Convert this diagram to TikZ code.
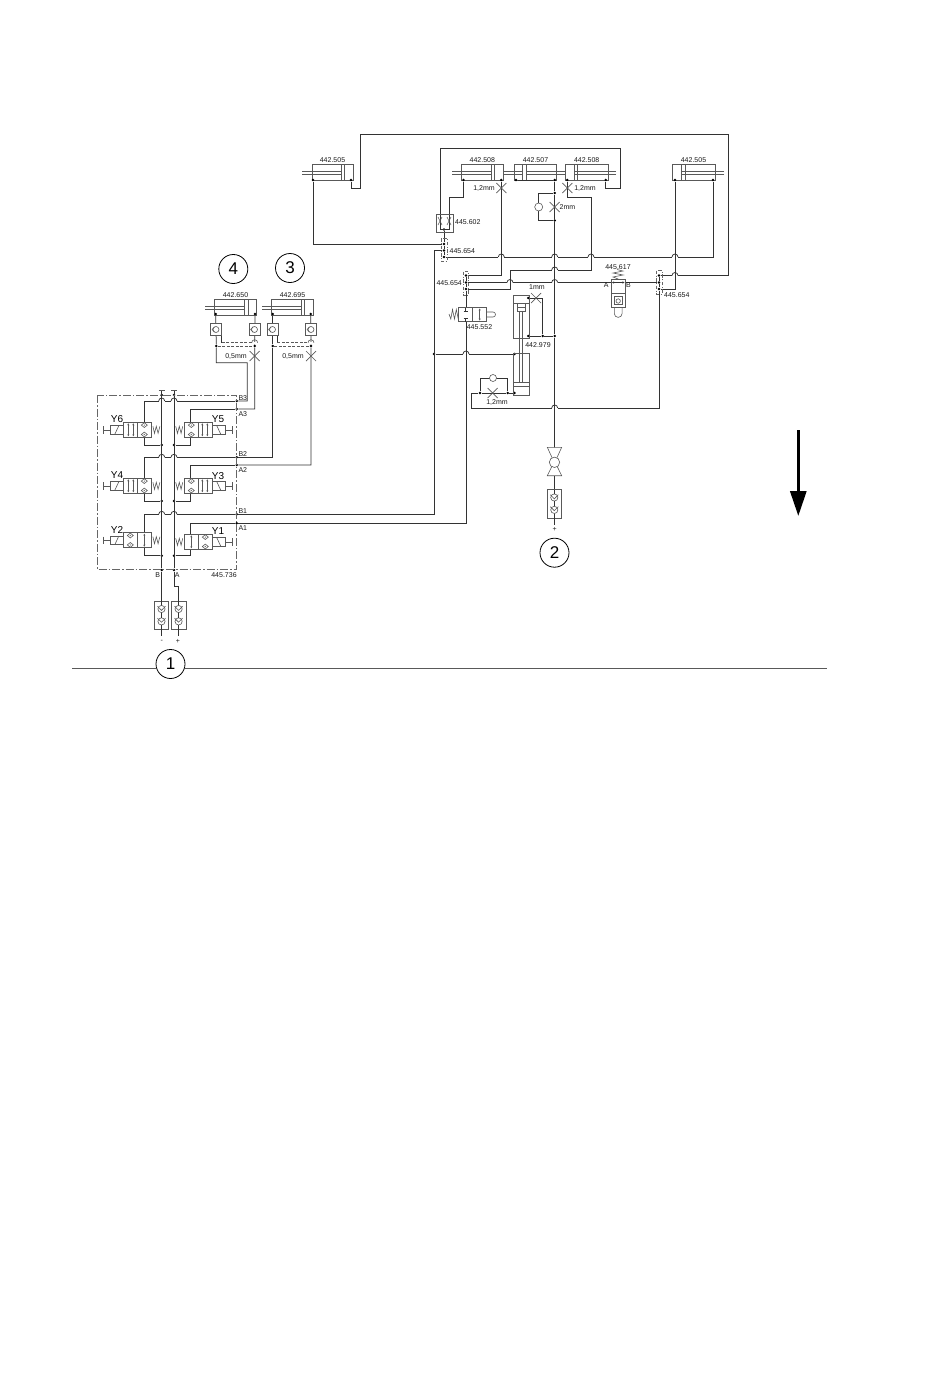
\documentclass[tikz,border=0pt]{standalone}
\usepackage{fontspec}
\setmainfont{Liberation Sans}
\usetikzlibrary{calc,arrows.meta}
\newcommand{\clrwire}{black!80}
\newcommand{\clrpart}{black!65}

\tikzset{
    wire/.style = {draw=\clrwire, line width=0.75pt},
    part/.style = {draw=\clrpart, line width=0.6pt},
    pilot/.style = {part, dash pattern=on 3pt off 1.5pt},
    frame/.style = {draw=black!60, line width=0.6pt, dash pattern=on 8pt off 2pt on 1.5pt off 2pt},
    port/.style = {fill=black, circle, inner sep=0pt, minimum size=2.8pt},
    lbl/.style = {inner sep=0pt, font=\fontsize{7}{7}\selectfont, text=black!90},
    ylbl/.style = {inner sep=0pt, font=\fontsize{10}{10}\selectfont, text=black},
    numc/.style = {draw=black, circle, line width=0.8pt, minimum size=29pt, inner sep=0pt,
        font=\fontsize{17}{17}\selectfont},
    twoway/.style = {part, {Stealth[length=2pt,width=2pt]}-{Stealth[length=2pt,width=2pt]}},
    % restrictor on a line
    pics/throttle/.style = {code = {
        \draw[part, line width=0.7pt] (-5,-5) -- (5,5) (-5,5) -- (5,-5);
    }},
    % non return valve with a seat
    pics/chk/.style = {code = {
        \draw[part] (-3,0) -- (0,-2.4) -- (3,0) -- (0,2.4) -- cycle;
        \fill[\clrpart] (0,0) circle (0.6);
    }},
    pics/checksq/.style = {code = {
        \draw[part, fill=white] (-5.7,-6.2) rectangle (5.7,6.2);
        \draw[part] (0,0) circle (3);
        \draw[part] (-4,0) -- (-1.5,-2.6) (-4,0) -- (-1.5,2.6);
    }},
    pics/coupling/.style = {code = {
        \draw[part, fill=white] (-7.2,-14.2) rectangle (7.2,14.2);
        \foreach\i in {-1,1} {
            \draw[part, fill=white] (0,\i*6.2) circle (3.6);
        }
        \draw[part] (-4,-9) -- (0,-4.8) -- (4,-9);
        \draw[part] (-4,3) -- (0,7) -- (4,3);
        \draw[wire] (0,-14.2) -- (0,-9.8) (0,-2.6) -- (0,2.6) (0,9.8) -- (0,14.2);
    }},
    % #1 place of the arrows, #2 place of the seats
    pics/solvalve/.style 2 args = {code = {
        \draw[part, fill=white] (0,0) rectangle (28.4,15);
        \draw[part] (14.4,0) -- (14.4,15);
        \foreach\i in {#1} {
            \draw[twoway] (\i,1) -- (\i,14);
        }
        \foreach\i in {#2} {
            \pic at (\i,2.8) {chk};
            \pic at (\i,12.2) {chk};
        }
        \draw[part, fill=white] (-13.3,3.4) rectangle (0,12);
        \draw[part] (-8.5,12) -- (-4.5,3.4);
        \draw[part] (-13.3,7.7) -- (-20,7.7) (-20,4) -- (-20,11.4);
        \draw[part] (29.6,4) -- (31.2,11) -- (33,4) -- (34.8,11) -- (36.6,4);
    }},
}

\begin{document}
\begin{tikzpicture}[x=1pt, y=-1pt]
    \useasboundingbox (0,0) rectangle (950,1387);

    % cylinders
    \foreach \nm/\xa/\xb/\px/\rodx/\ya/\txt in {
        cyla/312/353/341/302/164/442.505, cylb/461.7/503/491/452/164/442.508,
        cylc/514.3/556.7/522.7/503/164/442.507, cyld/565.3/608/574/616/164/442.508,
        cyle/672/715/681.7/724/164/442.505, cylf/214.3/256.7/244.3/205/299/442.650,
        cylg/271.7/313.3/301/262/299/442.695} {
        \draw[part] (\xa,\ya) rectangle (\xb,\ya+16);
        \draw[part] (\px,\ya) -- (\px,\ya+16) (\px+3.6,\ya) -- (\px+3.6,\ya+16);
        \draw[part] (\rodx,\ya+6.8) -- (\px,\ya+6.8) (\rodx,\ya+10) -- (\px,\ya+10);
        \node[lbl] (lbl\nm) at ({(\xa+\xb)/2},\ya-4) {\txt};
    }
    \draw[part] (526.3,170.8) -- (565.3,170.8) (526.3,174) -- (565.3,174);

    % ports and junctions
    \foreach \nm/\x/\y in {
        pa1/313/180, pa2/351/180, pb1/463.5/180, pb2/501.3/180, pc1/516/180, pc2/554.7/180,
        pd1/567.3/180, pd2/605.7/180, pe1/675/180, pe2/713/180,
        sa1/444/244, sa2/444/250.5, sa3/444/257, sm1/466/275.5, sm2/466/282.5, sm3/466/289,
        sr1/659/275.5, sr2/659/282.5, sr3/659/289, jv/444/229.5,
        ja/554.7/193, jb/554.7/220.5, jc/434/354, jd/528.3/298, je/528.3/336, jf/542.7/336,
        jg/554.7/336, jh/514.5/354, ji/514.5/393, jj/507.7/393, jk/480/393,
        pf1/215.7/314, pf2/255/314, pg1/272.7/314, pg2/310.7/314,
        df1/216.3/346, df2/254.7/346, dg1/272.7/346, dg2/311/346,
        b3/236.7/401, a3/236.7/409, b2/236.7/457.3, a2/236.7/465, b1/236.7/514.3, a1/236.7/523.3,
        mbt/161.7/395, mat/174/395, mbb/161.7/570, mab/174/570,
        y6b/161.7/445, y5b/174/445, y4b/161.7/501, y3b/174/501, y2b/161.7/555.7, y1b/174/555.7} {
        \node[port] (\nm) at (\x,\y) {};
    }
    \foreach \nm/\x/\y in {
        ca/360/188, cb/360/134, cc/728/134, cd/728/275.5, ce/434/250.5, cf/434/514.3,
        cg/440/229.5, ch/440/148, ci/620/148, cj/620/188, ck/449/229.5, cl/449/197,
        cm/510/289, cn/510/270, co/591/270, cp/591/197, cq/466/307.5, cr/466/322,
        cs/466/523.3, ct/659/408, cu/471.5/408, cv/471.5/393, cw/480/378, cx/507.7/378,
        cy/542.7/298, cz/554.7/447.5, da/554.7/475.5, db/554.7/489.3,
        dc/611/282.5, dd/625.5/282.5, de/216.3/362.7, dh/247.3/362.7, di/247.3/401,
        dj/254.7/409, dk/272.7/457.3, dl/311/465, dm/144.3/401, dn/144.3/445,
        dp/190.7/409, dq/190.7/445, dr/144.3/457.3, ds/144.3/501, dt/190.7/465,
        du/190.7/501, dv/144.3/514.3, dw/144.3/555.7, dx/190.7/523.3, dy/190.7/555.7,
        dz/161.7/390, ea/174/390, eb/161.7/601, ec/174/586, ed/178.3/586, ee/178.3/601,
        ef/161.7/636, eg/178.3/636, eh/554.7/518, ei/554.7/525, ej/221.7/335.7,
        ek/221.7/342.7, el/277.3/335.7, em/277.3/342.7, en/254.7/342.7, eo/311/342.7} {
        \coordinate (\nm) at (\x,\y);
    }

    % upper circuit
    \draw[wire, line width=0.9pt] (pa2) |- (ca) -- (cb) -- (cc) -- (cd) -- (sr1);
    \draw[wire] (pa1) |- (sa1);
    \draw[wire] (jv) -- (sa1) -- (sa2) -- (sa3);
    \draw[wire] (sa2) -- (ce) -- (cf) -- (b1);
    \draw[wire] (sa3) -| (pe2);
    \draw[wire] (pe1) |- (sr3);
    \draw[wire] (sr1) -- (sr2) -- (sr3) -- (ct) -- (cu) -- (cv) -- (jk);
    \draw[wire] (jk) -- (jj) -- (ji);
    \draw[wire] (sm2) -- (dc) (dd) -- (sr2);
    \draw[wire] (sm1) -| (pb2);
    \draw[wire] (sm3) -- (cm) -- (cn) -- (co) -- (cp) -| (pd1);
    \draw[wire] (sm1) -- (sm2) -- (sm3) -- (cq);
    \draw[wire] (cr) -- (cs) -- (a1);
    \draw[wire] (jc) -- (jh);
    \draw[wire] (pc1) -- (pc2) -- (ja) -- (jb) -- (jg) -- (cz);
    \draw[wire] (da) -- (db);
    \draw[wire] (ja) -| ($(ja)+(-16,0)$) |- (jb);
    \draw[wire] (cg) -- (ch) -- (ci) -- (cj) -| (pd2);
    \draw[wire] (ck) -- (cl) -| (pb1);
    \draw[wire] (cg) -- (ck);
    \draw[wire] (jd) -- (cy) -- (jf);
    \draw[wire] (je) -- (jf) -- (jg);
    \draw[wire] (jk) -- (cw) -- (cx) -- (jj);

    % lower circuit
    \draw[wire] (pf1) -- (df1) -- (de) -- (dh) -- (di) -- (b3);
    \draw[wire] (pf2) -- (df2) -- (dj) -- (a3);
    \draw[wire] (pg1) -- (dg1) -- (dk) -- (b2);
    \draw[wire] (pg2) -- (dg2) -- (dl) -- (a2);
    \draw[wire] (ej) -- (ek) (el) -- (em);
    \draw[pilot] (ek) -- (en) (em) -- (eo) (df1) -- (df2) (dg1) -- (dg2);
    \draw[wire] (dm) -- (b3);
    \draw[wire] (dp) -- (a3);
    \draw[wire] (dr) -- (b2);
    \draw[wire] (dt) -- (a2);
    \draw[wire] (dv) -- (b1);
    \draw[wire] (dx) -- (a1);
    \draw[wire] (dm) -- (dn) -- (y6b);
    \draw[wire] (dp) -- (dq) -- (y5b);
    \draw[wire] (dr) -- (ds) -- (y4b);
    \draw[wire] (dt) -- (du) -- (y3b);
    \draw[wire] (dv) -- (dw) -- (y2b);
    \draw[wire] (dx) -- (dy) -- (y1b);
    \draw[wire, line width=0.9pt] (dz) -- (mbb) -- (eb);
    \draw[wire, line width=0.9pt] (ea) -- (mab) -- (ec) -- (ed) -- (ee);
    \draw[part] (158.7,390) -- (164.7,390) (171,390) -- (177,390);

    % line crossings
    \foreach \x/\y in {501.3/257, 554.7/257, 591/257, 675/257, 554.7/270, 510/282.5, 554.7/282.5,
        675/275.5, 466/354, 554.7/408, 161.7/401, 174/401, 161.7/457.3, 174/457.3,
        161.7/514.3, 174/514.3} {
        \fill[white] (\x-3,\y-0.8) rectangle (\x+3,\y+0.8);
        \draw[wire] (\x,\y-4) -- (\x,\y+4);
        \draw[wire] (\x-3,\y) arc (180:360:3);
    }
    \foreach \x/\y in {254.7/342.7, 311/342.7} {
        \fill[white] (\x-3,\y-0.8) rectangle (\x+3,\y+0.8);
        \draw[part] (\x-3,\y) arc (180:360:3);
    }

    % restrictors
    \foreach \x/\y in {501.3/188, 567.3/188, 554.7/207, 254.7/356, 311/356, 536/298, 492.7/393} {
        \pic at (\x,\y) {throttle};
    }
    \node[lbl] (lthra) at (484,188) {1,2mm};
    \node[lbl] (lthrb) at (585,188) {1,2mm};
    \node[lbl] (lthrc) at (567.5,207) {2mm};
    \node[lbl] (lthrd) at (236,356) {0,5mm};
    \node[lbl] (lthre) at (293,356) {0,5mm};
    \node[lbl] (lthrf) at (537,287) {1mm};
    \node[lbl] (lthrg) at (497,402) {1,2mm};

    % bypass check valves
    \draw[part, fill=white] (538.7,207) circle (4);
    \draw[part, fill=white] (493,378) circle (3.5);

    % block 445.602
    \draw[part] (436,214) rectangle (453,232);
    \foreach \x in {440,449} {
        \draw[part] (\x-2,217) -- (\x+2,225) (\x+2,217) -- (\x-2,225);
    }
    \node[lbl, anchor=west] (lblv) at (455,222) {445.602};

    % blocks 445.654
    \foreach \xa/\ya in {441.7/238, 463.3/271.7, 656.7/270.7} {
        \draw[frame, dash pattern=on 3.5pt off 1.5pt on 1pt off 1.5pt]
            (\xa,\ya) rectangle (\xa+5.2,\ya+23.5);
    }
    \node[lbl, anchor=west] (lblsa) at (449.5,251) {445.654};
    \node[lbl, anchor=east] (lblsm) at (462,283) {445.654};
    \node[lbl, anchor=west] (lblsr) at (664,295.5) {445.654};

    % valve 445.552
    \draw[part, fill=white] (458.3,307.3) rectangle (486.7,321.7);
    \draw[part] (472.7,307.3) -- (472.7,321.7);
    \draw[twoway] (479.7,308.5) -- (479.7,320.5);
    \draw[wire] (465.8,307.5) -- (465.8,311) (463.6,311) -- (468,311);
    \draw[wire] (465.8,322) -- (465.8,318) (463.6,318) -- (468,318);
    \draw[part] (458.3,319) -- (456.3,309.5) -- (454.5,319) -- (452.5,309.5) -- (450.8,319) -- (449,314);
    \draw[part] (486.7,312) -- (493,312) arc (-90:90:2.5) -- (486.7,317);
    \node[lbl] (lblq) at (479.5,327) {445.552};

    % valve 445.617
    \draw[part, fill=white] (611,279) rectangle (625.5,307.7);
    \draw[part] (611,293.3) -- (625.5,293.3);
    \draw[wire, {Stealth[length=2pt,width=2pt]}-{Stealth[length=2pt,width=2pt]}] (612,282.5) -- (624.5,282.5);
    \draw[part, fill=white] (618.2,301) circle (2.2);
    \draw[part] (614,298) -- (614,296) -- (622.5,296) -- (622.5,298)
        (614,298) -- (614,304) -- (622.5,304) -- (622.5,298);
    \draw[part] (614.3,307.7) -- (614.3,313.5) arc (180:0:3.9) -- (622.1,307.7);
    \draw[part] (618.2,279) -- (613,277) -- (623,275) -- (613,273) -- (623,271) -- (617,269.5);
    \node[lbl] (lblr) at (618,267) {445.617};
    \node[lbl] (lblab) at (606.3,285.5) {A};
    \node[lbl] (lblbb) at (628.5,285.5) {B};

    % cylinder 442.979
    \draw[part] (513.3,295.7) rectangle (529,338);
    \draw[part] (513.3,303) -- (529,303);
    \draw[part] (517,303) -- (517,307.7) -- (525.7,307.7) -- (525.7,303);
    \draw[part] (517,307.7) rectangle (525.7,311.7);
    \draw[part] (513.3,353.3) rectangle (529,395.7);
    \draw[part] (513.3,382.3) -- (529,382.3) (513.3,386.7) -- (529,386.7);
    \draw[part, line width=0.9pt] (519,311.7) -- (519,382.3) (522.3,311.7) -- (522.3,382.3);
    \node[lbl] (lblcy) at (538,345) {442.979};

    % ball valve
    \draw[part, fill=white] (547.3,447.3) -- (561.7,447.3) -- (554.5,463) -- cycle;
    \draw[part, fill=white] (547.3,475.7) -- (561.7,475.7) -- (554.5,461) -- cycle;
    \draw[part, fill=white] (554.5,462.3) circle (5.2);

    % couplings
    \pic at (554.3,503.7) {coupling};
    \pic at (161.5,615.2) {coupling};
    \pic at (178.6,615.2) {coupling};
    \draw[wire] (eh) -- (ei) (178.3,629.4) -- (eg) (161.7,629.4) -- (ef);
    \node[lbl] (lplb) at (554.7,529.5) {+};
    \node[lbl] (lplc) at (178,641.5) {+};
    \node[lbl] (lmin) at (161.7,641) {-};

    % check valves of the small cylinders
    \foreach \x in {216,254.5,272.5,311} {
        \pic at (\x,329.5) {checksq};
    }

    % manifold 445.736
    \draw[frame] (97.3,395) rectangle (236.7,569.3);
    \node[lbl, anchor=west] (lb3) at (238.3,398) {B3};
    \node[lbl, anchor=west] (la3) at (238.3,414) {A3};
    \node[lbl, anchor=west] (lb2) at (238.3,454) {B2};
    \node[lbl, anchor=west] (la2) at (238.3,470.5) {A2};
    \node[lbl, anchor=west] (lb1) at (238.3,511) {B1};
    \node[lbl, anchor=west] (la1) at (238.3,528) {A1};
    \node[lbl] (lbb) at (157.7,575) {B};
    \node[lbl] (laa) at (177.3,575) {A};
    \node[lbl] (lman) at (224,575) {445.736};

    % solenoid valves
    \pic at (123.3,422.3) {solvalve={5,10}{21}};
    \pic[xscale=-1] at (212.3,422.3) {solvalve={5,10}{21}};
    \pic at (123.3,478.3) {solvalve={5,10}{21}};
    \pic[xscale=-1] at (212.3,478.3) {solvalve={5,10}{21}};
    \pic at (123.3,532.7) {solvalve={21}{7}};
    \pic[xscale=-1] at (212.3,534.3) {solvalve={21}{7}};
    \node[ylbl] (ly6) at (117,419) {Y6};
    \node[ylbl] (ly5) at (218,419) {Y5};
    \node[ylbl] (ly4) at (117,475) {Y4};
    \node[ylbl] (ly3) at (218,476) {Y3};
    \node[ylbl] (ly2) at (117,530) {Y2};
    \node[ylbl] (ly1) at (218,531) {Y1};

    % numbers and base line
    \node[numc] (numa) at (170.5,664) {1};
    \node[numc] (numb) at (554.5,552.7) {2};
    \node[numc] (numc) at (290,268) {3};
    \node[numc] (numd) at (233.3,269) {4};
    \coordinate (basel) at (72,668.3);
    \coordinate (baser) at (827,668.3);
    \draw[part] (basel) -- (numa.west |- basel) (numa.east |- basel) -- (baser);

    % direction arrow
    \coordinate (dira) at (798.3,430);
    \coordinate (dirb) at (798.3,516);
    \draw[black, line width=3pt, -{Triangle[length=25pt,width=16pt]}] (dira) -- (dirb);
\end{tikzpicture}
\end{document}
